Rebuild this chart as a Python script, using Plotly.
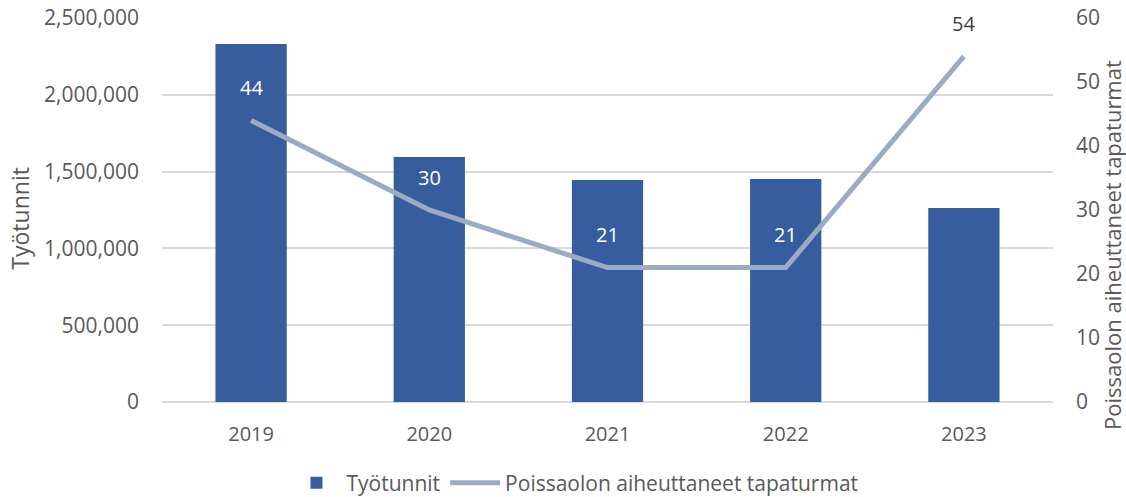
import plotly.graph_objects as go

years = ["2019", "2020", "2021", "2022", "2023"]
tyotunnit = [2330000, 1595000, 1445000, 1452000, 1263000]
tapaturmat = [44, 30, 21, 21, 54]

left_ticks = [0, 500000, 1000000, 1500000, 2000000, 2500000]
right_ticks = [0, 10, 20, 30, 40, 50, 60]

FONT = "Open Sans"
GREY = "#595959"
BAR = "#365E9F"
LINE = "#9AABC3"

fig = go.Figure()
fig.add_trace(go.Bar(
    x=years, y=tyotunnit, name="Työtunnit",
    marker=dict(color=BAR, line=dict(width=0)), width=0.4,
))
fig.add_trace(go.Scatter(
    x=years, y=tapaturmat, name="Poissaolon aiheuttaneet tapaturmat",
    mode="lines", line=dict(color=LINE, width=5), yaxis="y2",
))

label_colors = ["white", "white", "white", "white", "#404040"]
for i, (v, c) in enumerate(zip(tapaturmat, label_colors)):
    fig.add_annotation(x=i, y=v, xref="x", yref="y2", text=str(v),
                       showarrow=False, yshift=33,
                       font=dict(family=FONT, size=20, color=c))

# axis titles
fig.add_annotation(text="Työtunnit", xref="paper", yref="paper",
                   x=-0.1594, y=0.48, textangle=-90, showarrow=False,
                   xanchor="center", yanchor="middle",
                   font=dict(family=FONT, size=23, color=GREY))
fig.add_annotation(text="Poissaolon aiheuttaneet tapaturmat", xref="paper", yref="paper",
                   x=1.0662, y=0.409, textangle=-90, showarrow=False,
                   xanchor="center", yanchor="middle",
                   font=dict(family=FONT, size=22, color=GREY))

fig.update_layout(
    width=1126, height=497,
    margin=dict(l=162, r=73, t=18, b=95, autoexpand=False),
    paper_bgcolor="white", plot_bgcolor="white",
    font=dict(family=FONT, size=20, color=GREY),
    xaxis=dict(type="category", range=[-0.5, len(years) - 0.5],
               showgrid=False, showline=False, ticks="",
               automargin=False, ticklabelstandoff=18,
               tickfont=dict(size=20, color=GREY)),
    yaxis=dict(range=[0, 2500000], tickvals=left_ticks, tickformat=",",
               showgrid=True, gridcolor="#D9D9D9", gridwidth=1.5,
               zeroline=True, zerolinecolor="#D9D9D9", zerolinewidth=1.5,
               showline=False, ticks="", ticklabelstandoff=22, automargin=False,
               ticklabeloverflow="allow",
               tickfont=dict(size=21, color=GREY)),
    yaxis2=dict(range=[0, 60], tickvals=right_ticks, overlaying="y", side="right",
                showgrid=False, zeroline=False, showline=False, ticks="",
                ticklabelstandoff=22, automargin=False,
                ticklabeloverflow="allow",
                tickfont=dict(size=21, color=GREY)),
    legend=dict(orientation="h", x=0.4635, xanchor="center", y=-0.211, yanchor="middle",
                font=dict(size=21, color=GREY), traceorder="normal",
                itemwidth=50),
    showlegend=True,
)

fig.write_html("out.html", config={"displayModeBar": False},
               post_script="document.body.style.margin='0';")
